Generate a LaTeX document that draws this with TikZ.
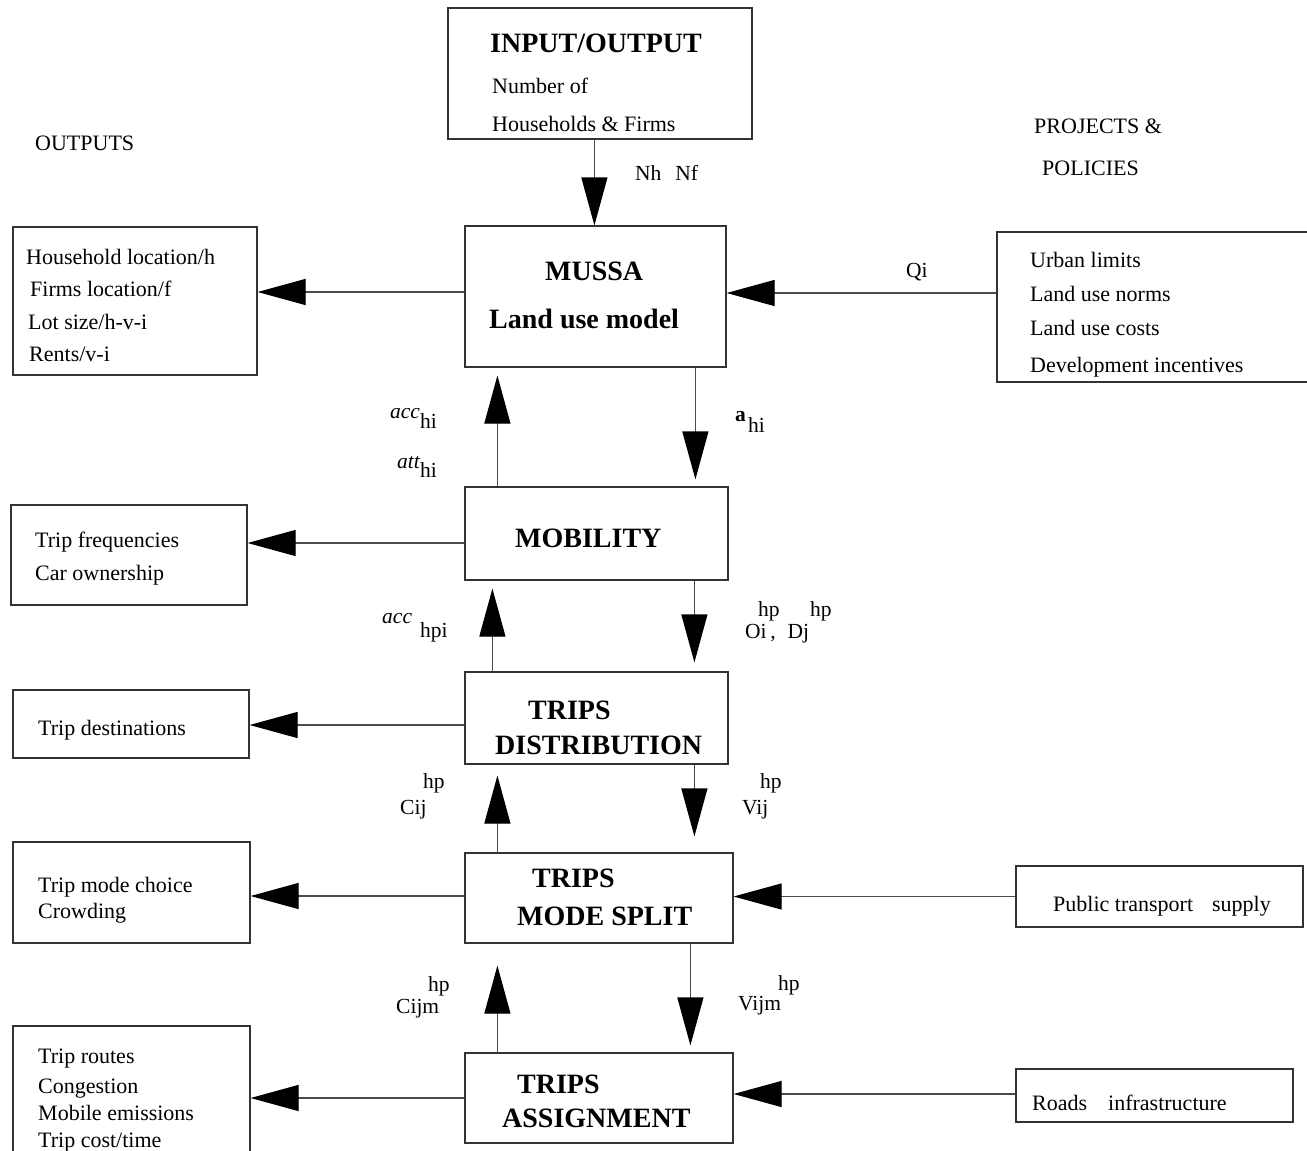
\documentclass[tikz,border=0pt]{standalone}
\usepackage{fontspec}
\setmainfont{Liberation Serif}
\usetikzlibrary{arrows.meta}
\begin{document}
\begin{tikzpicture}[x=1pt,y=-1pt,
  box/.style={draw=black!80, line width=1.2pt, inner sep=0pt},
  arr/.style={draw=black!70, line width=1.2pt, -{Triangle[length=48pt,width=26pt,black]}},
  body/.style={anchor=base west, inner sep=0pt, font=\fontsize{22}{22}\selectfont},
  lab/.style={anchor=base west, inner sep=0pt, font=\fontsize{21.5}{21.5}\selectfont},
  ital/.style={anchor=base west, inner sep=0pt, font=\itshape\fontsize{21.5}{21.5}\selectfont},
  head/.style={anchor=base west, inner sep=0pt, font=\bfseries\fontsize{28}{28}\selectfont}]
\path[use as bounding box] (0,0) rectangle (1307,1151);
\clip (0,0) rectangle (1307,1151);
\fill[white] (0,0) rectangle (1307,1151);

% ---------- model boxes (centre column) ----------
\node[box, minimum width=304, minimum height=131] (io)     at (600,73.5)  {};
\node[box, minimum width=261, minimum height=141] (mussa)  at (595.5,296.5) {};
\node[box, minimum width=263, minimum height=93]  (mob)    at (596.5,533.5) {};
\node[box, minimum width=263, minimum height=92]  (dist)   at (596.5,718) {};
\node[box, minimum width=268, minimum height=90]  (mode)   at (599,898) {};
\node[box, minimum width=268, minimum height=90]  (assign) at (599,1098) {};

% ---------- output boxes (left) ----------
\node[box, minimum width=244, minimum height=148] (out1) at (135,301) {};
\node[box, minimum width=236, minimum height=100] (out2) at (129,555) {};
\node[box, minimum width=236, minimum height=68]  (out3) at (131,724) {};
\node[box, minimum width=237, minimum height=101] (out4) at (131.5,892.5) {};
\node[box, minimum width=237, minimum height=144] (out5) at (131.5,1098) {};

% ---------- projects and policies (right) ----------
\node[box, minimum width=315, minimum height=150] (pol1)  at (1154.5,307) {};
\node[box, minimum width=287, minimum height=61]  (pts)   at (1159.5,896.5) {};
\node[box, minimum width=277, minimum height=53]  (roads) at (1154.5,1095.5) {};

% ---------- headings ----------
\node[body] (hOut)  at (35,150)   {OUTPUTS};
\node[body] (hProj) at (1034,133) {PROJECTS \&};
\node[body] (hPol)  at (1042,175) {POLICIES};

% ---------- box texts ----------
\node[head] (tIo)   at (490,52)  {INPUT/OUTPUT};
\node[body] (tIo2)  at (492,93)  {Number of};
\node[body] (tIo3)  at (492,131) {Households \& Firms};

\node[head] (tMu1)  at (545,280) {MUSSA};
\node[head] (tMu2)  at (489,328) {Land use model};
\node[head] (tMob)  at (515,547) {MOBILITY};
\node[head] (tDi1)  at (528,719) {TRIPS};
\node[head] (tDi2)  at (495,754) {DISTRIBUTION};
\node[head] (tMo1)  at (532,887) {TRIPS};
\node[head] (tMo2)  at (517,925) {MODE SPLIT};
\node[head] (tAs1)  at (517,1093) {TRIPS};
\node[head] (tAs2)  at (502,1127) {ASSIGNMENT};

\node[body] (o1a) at (26,264) {Household location/h};
\node[body] (o1b) at (30,296) {Firms location/f};
\node[body] (o1c) at (28,329) {Lot size/h-v-i};
\node[body] (o1d) at (29,361) {Rents/v-i};
\node[body] (o2a) at (35,547) {Trip frequencies};
\node[body] (o2b) at (35,580) {Car ownership};
\node[body] (o3a) at (38,735) {Trip destinations};
\node[body] (o4a) at (38,892) {Trip mode choice};
\node[body] (o4b) at (38,918) {Crowding};
\node[body] (o5a) at (38,1063) {Trip routes};
\node[body] (o5b) at (38,1093) {Congestion};
\node[body] (o5c) at (38,1120) {Mobile emissions};
\node[body] (o5d) at (38,1147) {Trip cost/time};

\node[body] (p1a) at (1030,267) {Urban limits};
\node[body] (p1b) at (1030,301) {Land use norms};
\node[body] (p1c) at (1030,335) {Land use costs};
\node[body] (p1d) at (1030,372) {Development incentives};
\node[body] (p2a) at (1053,911) {Public transport\hspace{19pt}supply};
\node[body] (p3a) at (1032,1110) {Roads\hspace{21pt}infrastructure};

% ---------- connectors ----------
\draw[arr] ([xshift=147pt]io.south west) -- ([xshift=130pt]mussa.north west);
\draw[arr] ([yshift=4.5pt]mussa.west) -- ([yshift=4.5pt]mussa.west -| out1.east);
\draw[arr] ([yshift=14pt]pol1.west) -- ([yshift=14pt]pol1.west -| mussa.east);

\draw[arr, shorten >=7pt] ([xshift=231pt]mussa.south west) -- ([xshift=231pt]mob.north west);
\draw[arr, shorten >=8pt] ([xshift=33pt]mob.north west) -- ([xshift=33pt]mussa.south west);
\draw[arr] ([yshift=-9.5pt]mob.west) -- ([yshift=-9.5pt]mob.west -| out2.east);

\draw[arr, shorten >=9pt] ([xshift=230pt]mob.south west) -- ([xshift=230pt]dist.north west);
\draw[arr, shorten >=8pt] ([xshift=28pt]dist.north west) -- ([xshift=28pt]mob.south west);
\draw[arr] ([yshift=-7pt]dist.west) -- ([yshift=-7pt]dist.west -| out3.east);

\draw[arr, shorten >=16pt] ([xshift=230pt]dist.south west) -- ([xshift=230pt]mode.north west);
\draw[arr, shorten >=11pt] ([xshift=33pt]mode.north west) -- ([xshift=33pt]dist.south west);
\draw[arr] ([yshift=2pt]mode.west) -- ([yshift=2pt]mode.west -| out4.east);
\draw[arr] (pts.west) -- (pts.west -| mode.east);

\draw[arr, shorten >=7pt] ([xshift=226pt]mode.south west) -- ([xshift=226pt]assign.north west);
\draw[arr, shorten >=22pt] ([xshift=33pt]assign.north west) -- ([xshift=33pt]mode.south west);
\draw[arr] (assign.west) -- (assign.west -| out5.east);
\draw[arr] ([yshift=1.5pt]roads.west) -- ([yshift=1.5pt]roads.west -| assign.east);

% ---------- connector labels ----------
\node[lab] (lNh) at (635,180) {Nh\hspace{14pt}Nf};
\node[lab] (lQi) at (906,277) {Qi};

\node[anchor=base west, inner sep=0pt, font=\bfseries\fontsize{21.5}{21.5}\selectfont] (lA) at (735,421) {a};
\node[lab] (lAs) at (748,432) {hi};
\node[ital] (lAcc) at (390,418) {acc};
\node[lab] (lAccs) at (420,428) {hi};
\node[ital] (lAtt) at (397,468) {att};
\node[lab] (lAtts) at (420,477) {hi};

\node[ital] (lAcp) at (382,623) {acc};
\node[lab] (lAcps) at (420,637) {hpi};
\node[lab] (lO) at (745,638) {Oi\,,\hspace{12pt}Dj};
\node[lab] (lOs) at (758,616) {hp};
\node[lab] (lDs) at (810,616) {hp};

\node[lab] (lC) at (400,814) {Cij};
\node[lab] (lCs) at (423,788) {hp};
\node[lab] (lV) at (742,814) {Vij};
\node[lab] (lVs) at (760,788) {hp};

\node[lab] (lCm) at (396,1013) {Cijm};
\node[lab] (lCms) at (428,991) {hp};
\node[lab] (lVm) at (738,1010) {Vijm};
\node[lab] (lVms) at (778,990) {hp};
\end{tikzpicture}
\end{document}
